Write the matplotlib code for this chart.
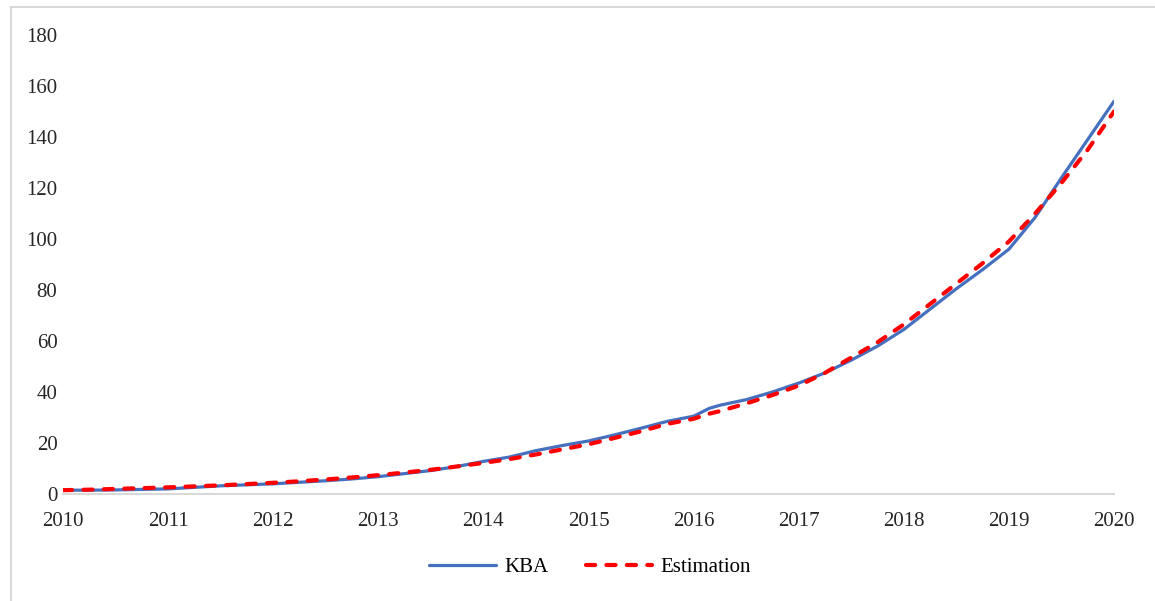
import matplotlib.pyplot as plt
from matplotlib.lines import Line2D

# Dane (kwartalnie)
years = [2010.00, 2010.25, 2010.50, 2010.75, 2011.00, 2011.25, 2011.50, 2011.75,
         2012.00, 2012.25, 2012.50, 2012.75, 2013.00, 2013.25, 2013.50, 2013.75,
         2014.00, 2014.25, 2014.50, 2014.75, 2015.00, 2015.25, 2015.50, 2015.75,
         2016.00, 2016.15, 2016.25, 2016.50, 2016.75, 2017.00, 2017.25, 2017.50,
         2017.75, 2018.00, 2018.25, 2018.50, 2018.75, 2019.00, 2019.25, 2019.50,
         2019.75, 2020.00]

kba = [1.5, 1.5, 1.6, 1.8, 2.0, 2.6, 3.2, 3.6,
       4.0, 4.6, 5.2, 5.9, 6.8, 8.0, 9.2, 10.8,
       12.8, 14.5, 17.0, 19.0, 20.8, 23.2, 25.8, 28.5,
       30.5, 33.6, 34.8, 37.0, 40.0, 43.5, 47.5, 52.5,
       58.0, 64.5, 72.5, 80.5, 88.0, 96.0, 108.5, 124.0,
       139.0, 154.0]

estimation = [1.5, 1.7, 2.0, 2.3, 2.6, 3.0, 3.4, 3.9,
              4.4, 5.0, 5.7, 6.5, 7.4, 8.4, 9.5, 10.8,
              12.2, 13.7, 15.5, 17.5, 19.5, 22.0, 24.6, 27.5,
              29.5, 31.5, 32.5, 35.5, 38.8, 42.5, 47.5, 53.5,
              59.5, 66.5, 74.5, 82.5, 90.5, 99.0, 110.0, 122.0,
              135.0, 150.0]

x_ticks = list(range(2010, 2021))
y_ticks = list(range(0, 181, 20))

plt.rcParams['font.family'] = ['Liberation Serif', 'DejaVu Serif']

fig = plt.figure(figsize=(11.55, 6.01), dpi=100)
ax = fig.add_axes([63 / 1155, 107 / 601, 1051 / 1155, 459 / 601])

blue = '#4570BF'
ax.plot(years, kba, color=blue, lw=2.3, solid_capstyle='round', label='KBA')
ax.plot(years, estimation, color='#FF0000', lw=3, dashes=(2.2, 2.7),
        dash_capstyle='round', label='Estimation')

ax.set_xlim(2010, 2020)
ax.set_ylim(0, 180)
ax.set_xticks(x_ticks)
ax.set_yticks(y_ticks)
ax.tick_params(axis='both', length=0, labelsize=15, colors='#262626')
ax.tick_params(axis='x', pad=13)
ax.tick_params(axis='y', pad=4)

for side in ['left', 'right', 'top']:
    ax.spines[side].set_visible(False)
ax.spines['bottom'].set_color('#d9d9d9')
ax.spines['bottom'].set_linewidth(1.5)

handles = [Line2D([], [], color=blue, lw=2.3, solid_capstyle='round'),
           Line2D([], [], color='#FF0000', lw=3, dashes=(2.2, 2.7), dash_capstyle='round')]
fig.legend(handles, ['KBA', 'Estimation'], loc='center', bbox_to_anchor=(590 / 1155, 1 - 567 / 601),
           ncol=2, frameon=False, fontsize=15, handlelength=3.2, columnspacing=1.8,
           handletextpad=0.4)

# ramka (tylko lewa i gorna krawedz widoczna)
fig.add_artist(Line2D([10.5 / 1155, 10.5 / 1155], [0, 1 - 6.5 / 601], color='#d9d9d9', lw=1.5))
fig.add_artist(Line2D([10.5 / 1155, 1], [1 - 6.5 / 601, 1 - 6.5 / 601], color='#d9d9d9', lw=1.5))

fig.savefig('out.png', dpi=100)
